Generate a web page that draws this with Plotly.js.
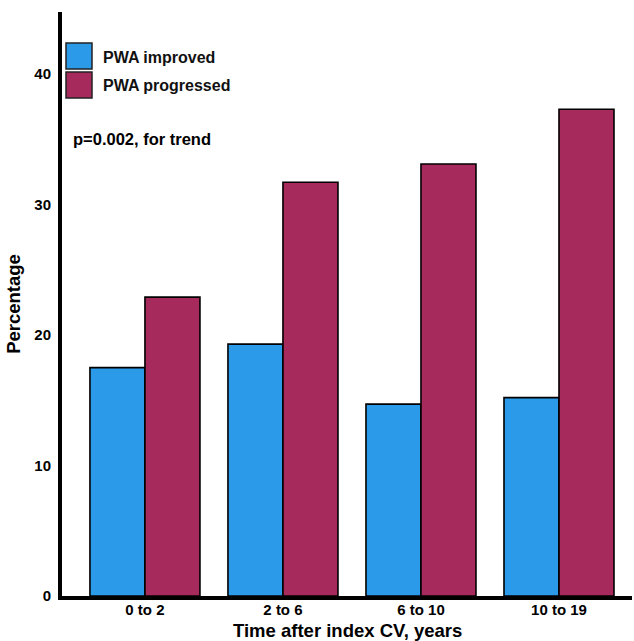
<!DOCTYPE html>
<html><head><meta charset="utf-8">
<script src="https://cdn.plot.ly/plotly-3.0.1.min.js"></script>
<style>html,body{margin:0;padding:0;background:#fff}#chart{width:634px;height:641px}</style>
</head><body><div id="chart"></div>
<script>
const categories = ["0 to 2", "2 to 6", "6 to 10", "10 to 19"];
const improved = [17.5, 19.3, 14.7, 15.2];
const progressed = [22.9, 31.7, 33.1, 37.3];
const seriesNames = ["PWA improved", "PWA progressed"];
const colors = ["#2B9BE9", "#A72A5D"];
const yTicks = [0, 10, 20, 30, 40];
const note = "p=0.002, for trend";
const xTitle = "Time after index CV, years";

const F = "Liberation Sans, Arial, Helvetica, sans-serif";
const traces = [improved, progressed].map((vals, i) => ({
  type: "bar", x: categories, y: vals, name: seriesNames[i],
  marker: {color: colors[i], line: {color: "#000", width: 1.6}},
  showlegend: false, hoverinfo: "skip"
}));

const shapes = [], annotations = [];
seriesNames.forEach((n, i) => {
  const y0 = 43 + i * 29;
  shapes.push({type: "rect", xref: "paper", yref: "paper",
    x0: (66 - 62) / 570, x1: (92 - 62) / 570,
    y0: (596 - (y0 + 26)) / 584, y1: (596 - y0) / 584,
    fillcolor: colors[i], line: {color: "#222", width: 1.5}});
  annotations.push({xref: "paper", yref: "paper", x: (101 - 62) / 570, y: (596 - (y0 + 14)) / 584,
    xanchor: "left", yanchor: "middle", text: n, showarrow: false,
    font: {family: F, size: 16, color: "#111", weight: "bold"}});
});
annotations.push({xref: "paper", yref: "paper", x: (71 - 62) / 570, y: (596 - 139) / 584,
  xanchor: "left", yanchor: "middle", text: note, showarrow: false,
  font: {family: F, size: 16.5, color: "#000", weight: "bold"}});
annotations.push({xref: "paper", yref: "paper", x: (347 - 62) / 570, y: 0, yshift: -46,
  xanchor: "center", yanchor: "bottom", text: xTitle, showarrow: false, borderpad: 0,
  font: {family: F, size: 18.5, color: "#000", weight: "bold"}});

const layout = {
  width: 634, height: 641,
  margin: {l: 62, r: 2, t: 12, b: 45},
  paper_bgcolor: "#fff", plot_bgcolor: "#fff",
  barmode: "group", bargap: 0.203, bargroupgap: 0,
  font: {family: F, color: "#000"},
  xaxis: {range: [-0.601, 3.529], showgrid: false, zeroline: false,
    showline: true, linewidth: 4, linecolor: "#000", ticks: "",
    tickfont: {family: F, size: 15, weight: "bold"}, ticklabelstandoff: -3},
  yaxis: {range: [0, 44.75], tickvals: yTicks, ticktext: yTicks.map(String),
    showgrid: false, zeroline: false, showline: true, linewidth: 4, linecolor: "#000",
    ticks: "", ticklen: 0, tickfont: {family: F, size: 15, weight: "bold"}, ticklabelstandoff: 4,
    title: {text: "Percentage", font: {family: F, size: 18.5, weight: "bold"}, standoff: 10}},
  shapes: shapes, annotations: annotations
};
Plotly.newPlot("chart", traces, layout, {displayModeBar: false, staticPlot: true});
</script></body></html>
